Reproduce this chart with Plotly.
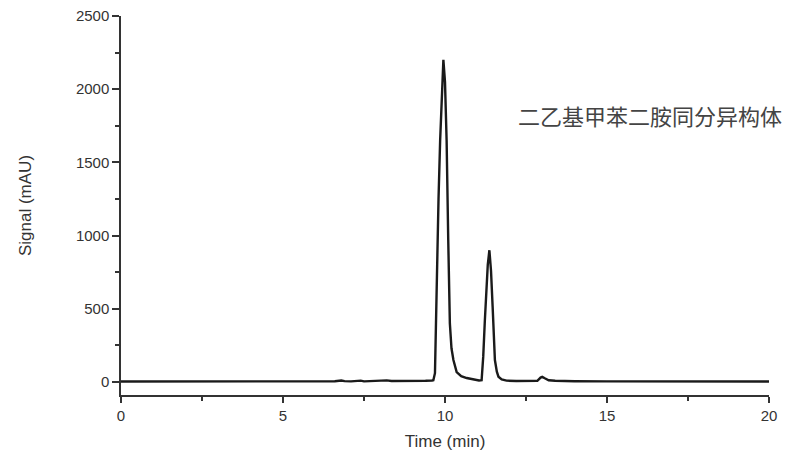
import plotly.graph_objects as go

# Chromatogram values
time_min = [0, 1, 2, 3, 4, 5, 5.4, 5.6, 5.8, 6.2, 6.6, 6.8, 6.9, 7.1, 7.4, 7.5, 7.7,
            8.0, 8.2, 8.35, 8.6, 9.0, 9.4, 9.6, 9.64, 9.69, 9.74, 9.80, 9.85, 9.90,
            9.95, 10.00, 10.05, 10.10, 10.15, 10.20, 10.26, 10.36, 10.5, 10.67, 10.85,
            11.05, 11.13, 11.18, 11.23, 11.27, 11.32, 11.37, 11.42, 11.47, 11.54, 11.60,
            11.65, 11.75, 11.90, 12.2, 12.6, 12.85, 12.95, 13.0, 13.08, 13.2, 13.4, 13.7,
            14, 15, 16, 17, 18, 19, 20]
signal_mau = [3, 3, 3, 3, 3, 4, 6, 1, 3, 4, 5, 10, 6, 4, 9, 4, 6,
              7, 11, 7, 6, 7, 8, 10, 12, 60, 745, 1250, 1650, 2000,
              2200, 2050, 1650, 970, 400, 230, 150, 68, 40, 27, 18,
              10, 12, 173, 420, 600, 800, 900, 760, 515, 150, 70,
              36, 18, 9, 7, 6, 8, 30, 35, 25, 12, 8, 6,
              5, 4, 4, 3, 3, 3, 3]

x_ticks = [0, 5, 10, 15, 20]
y_ticks = [0, 500, 1000, 1500, 2000, 2500]
annotation_text = "二乙基甲苯二胺同分异构体"
x_title = "Time (min)"
y_title = "Signal (mAU)"

fig = go.Figure()
fig.add_trace(go.Scatter(
    x=time_min, y=signal_mau, mode="lines",
    line=dict(color="#1a1a1a", width=2.4),
    showlegend=False,
))

axis_font = dict(family="Liberation Sans, Arial, sans-serif", size=15, color="#333333")

fig.update_layout(
    width=792, height=453,
    margin=dict(l=113, r=31, t=8, b=66, autoexpand=False),
    paper_bgcolor="white", plot_bgcolor="white",
    xaxis=dict(
        range=[0, 20], tickvals=x_ticks, ticktext=[str(v) for v in x_ticks],
        showline=True, linecolor="#333333", linewidth=1.5,
        ticks="outside", ticklen=6, tickwidth=1.5, tickcolor="#333333",
        minor=dict(dtick=2.5, tick0=0, ticks="outside", ticklen=4, tickwidth=1.5,
                   tickcolor="#333333"),
        showgrid=False, zeroline=False, tickfont=axis_font,
        ticklabeloverflow="allow", automargin=False,
        title=dict(text=x_title, font=dict(family="Liberation Sans, Arial, sans-serif",
                                           size=17, color="#333333"), standoff=12),
    ),
    yaxis=dict(
        range=[-89, 2500], tickvals=y_ticks, ticktext=[str(v) for v in y_ticks],
        showline=True, linecolor="#333333", linewidth=1.5,
        ticks="outside", ticklen=7, tickwidth=1.5, tickcolor="#333333",
        minor=dict(dtick=250, tick0=0, ticks="outside", ticklen=4, tickwidth=1.5,
                   tickcolor="#333333"),
        showgrid=False, zeroline=False, tickfont=axis_font,
        ticklabeloverflow="allow", automargin=False,
        title=dict(text=y_title, font=dict(family="Liberation Sans, Arial, sans-serif",
                                           size=17, color="#333333"), standoff=40),
    ),
    annotations=[dict(
        x=16.33, y=1824, xref="x", yref="y", text=annotation_text, showarrow=False,
        font=dict(family="Noto Sans CJK SC", size=22, color="#444444"),
    )],
)

fig.write_html("out.html")
